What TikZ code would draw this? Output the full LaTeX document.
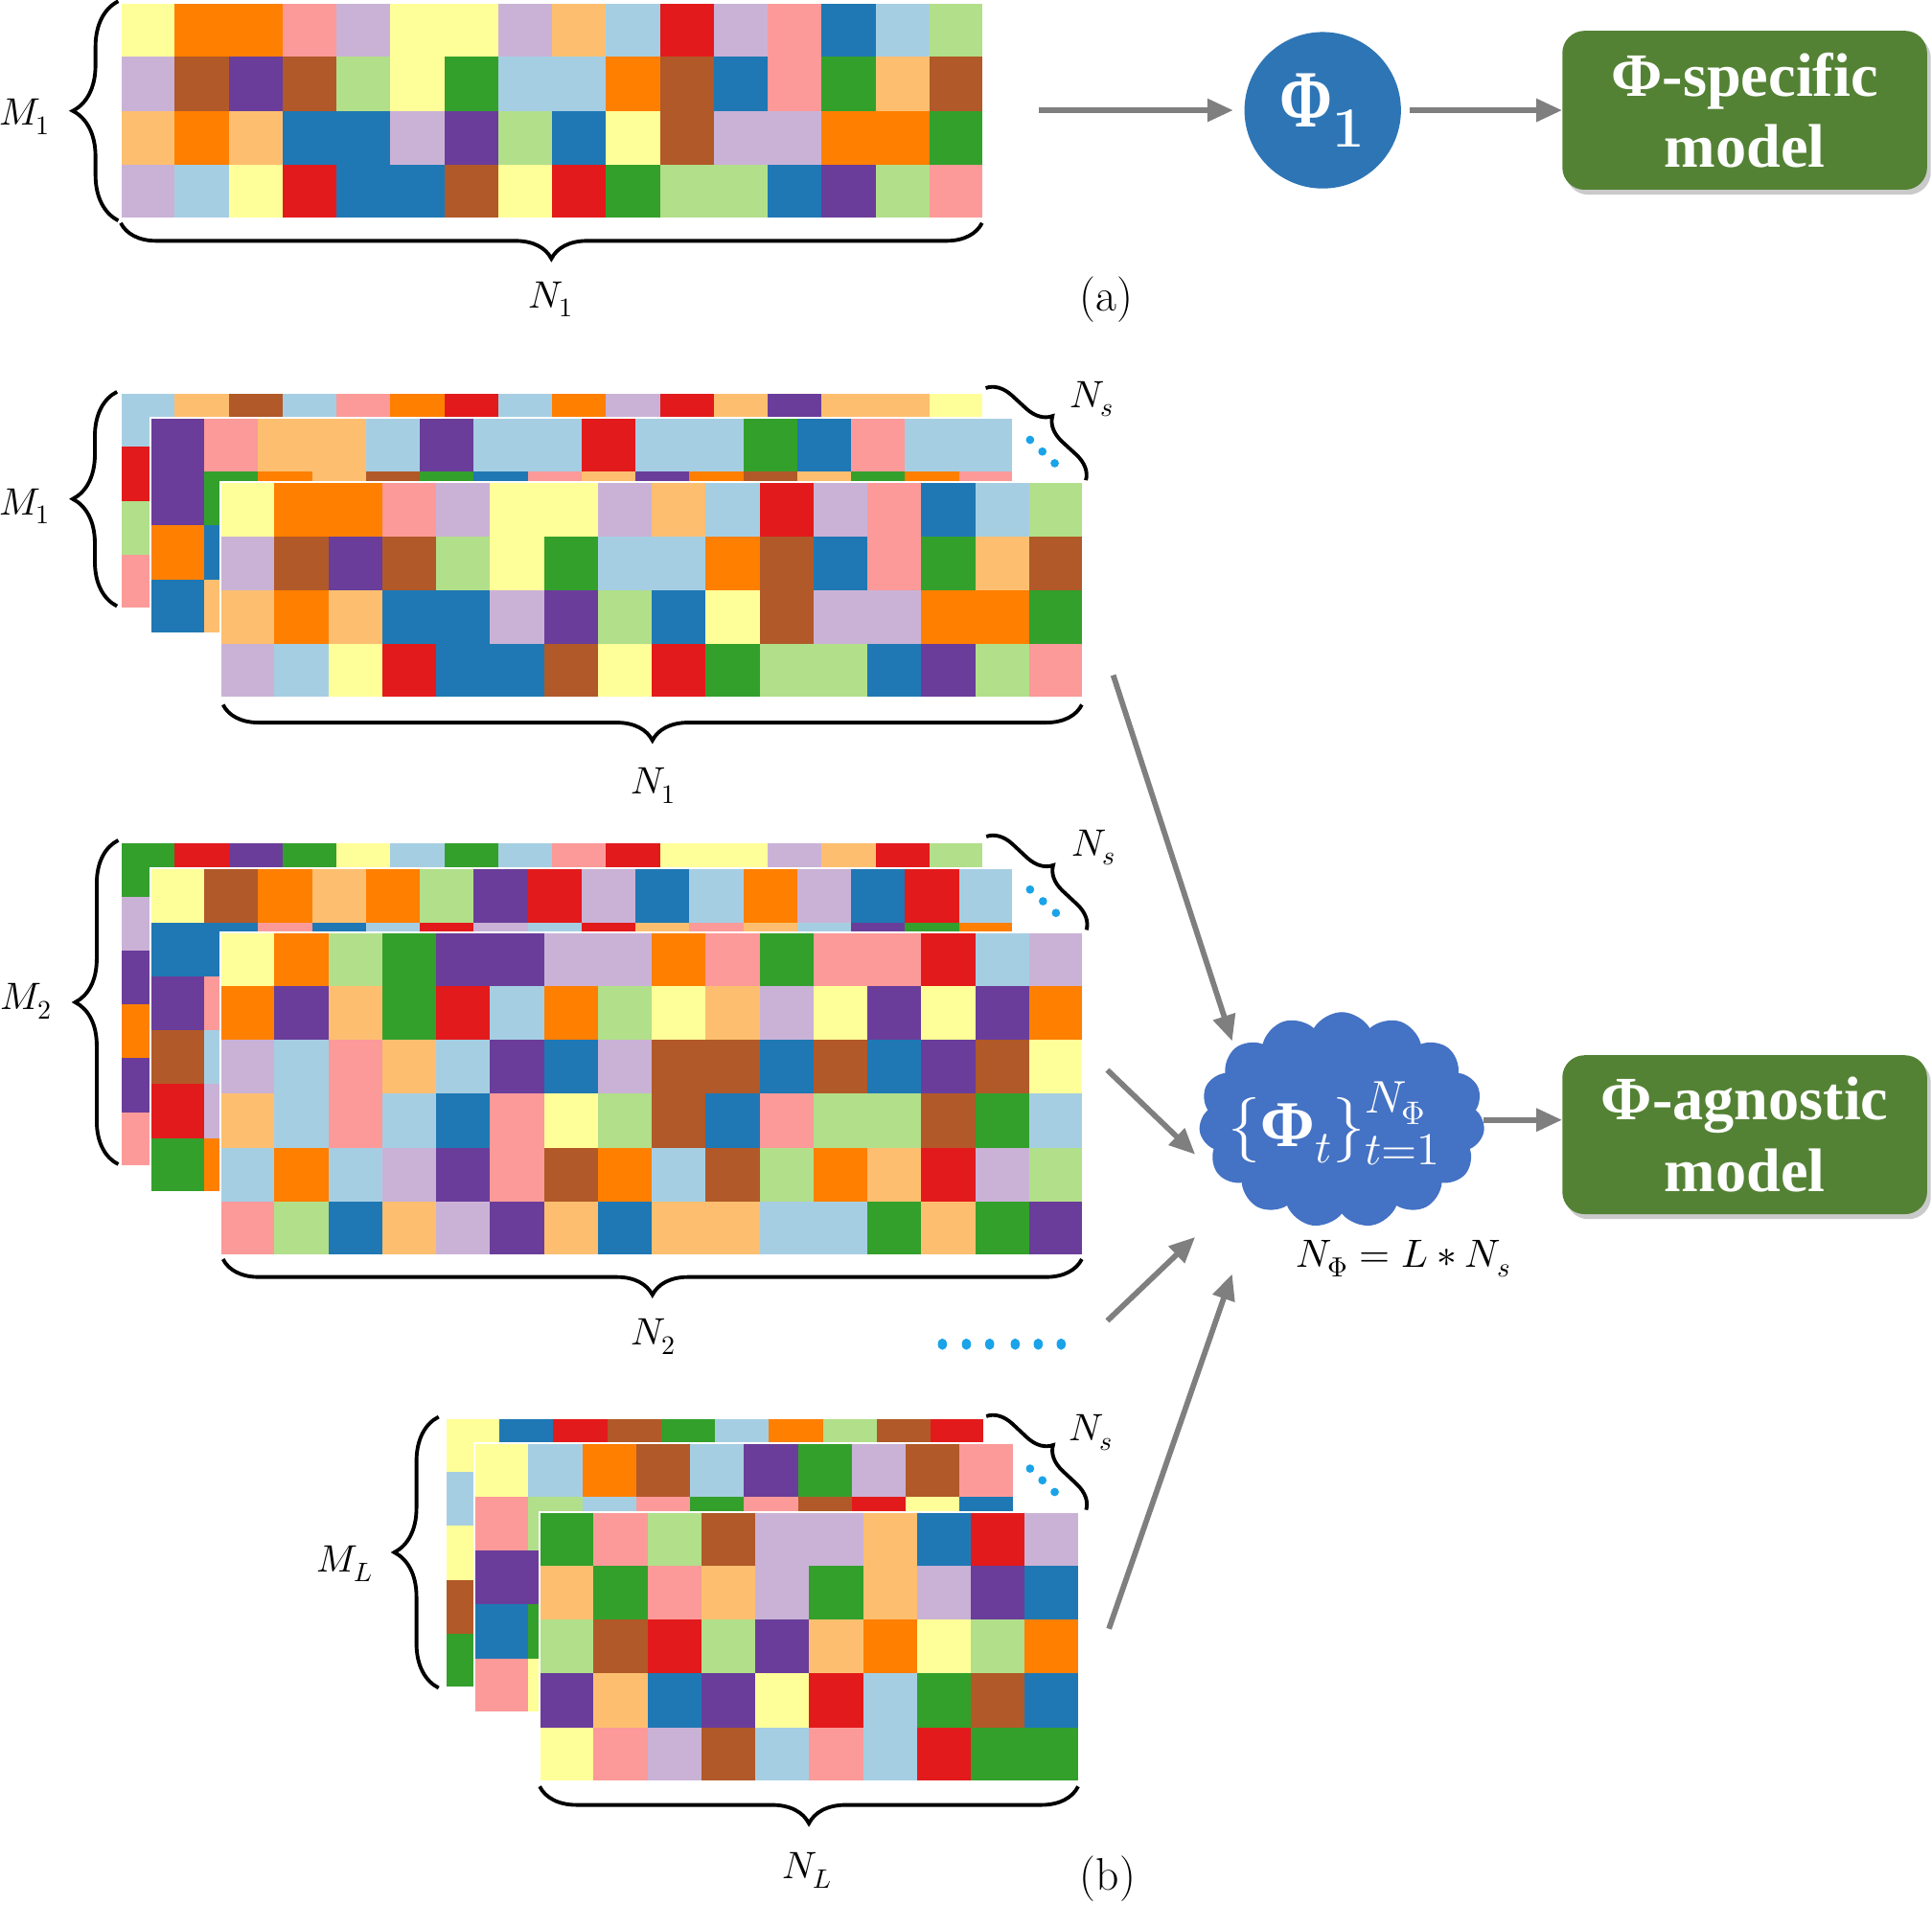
\documentclass[tikz,border=0pt]{standalone}
\usepackage{fontspec}
\usepackage{unicode-math}
\setmathfont{Latin Modern Math}
\newfontfamily\boxfont{Liberation Serif}
\usetikzlibrary{arrows.meta,decorations.pathreplacing,shapes.symbols,shadows}
\definecolor{qlb}{HTML}{A6CEE3}
\definecolor{qdb}{HTML}{1F78B4}
\definecolor{qlg}{HTML}{B2DF8A}
\definecolor{qgr}{HTML}{33A02C}
\definecolor{qpk}{HTML}{FB9A99}
\definecolor{qrd}{HTML}{E31A1C}
\definecolor{qlo}{HTML}{FDBF6F}
\definecolor{qor}{HTML}{FF7F00}
\definecolor{qlp}{HTML}{CAB2D6}
\definecolor{qpu}{HTML}{6A3D9A}
\definecolor{qye}{HTML}{FFFF99}
\definecolor{qbr}{HTML}{B15928}
\definecolor{arrowgray}{HTML}{7F7F7F}
\definecolor{circblue}{HTML}{2E75B6}
\definecolor{cloudblue}{HTML}{4472C4}
\definecolor{boxgreen}{HTML}{548235}
\definecolor{dotblue}{HTML}{1AA3E8}
\newcommand\bPhi[1]{\mbox{\scalebox{#1}[1]{\boxfont\bfseries Φ}}}
\newcommand\cellrow[3]{\foreach \cc [count=\ii from 0] in #3 {\fill[\cc] ({#1+\ii*43.75},{#2}) rectangle ++(44.3,44.3);}}
\newcommand\cellmat[3]{\foreach \rr [count=\jj from 0] in {#3} {\cellrow{#1}{#2+\jj*43.75}{\rr}}}
\newcommand\cellcol[3]{\foreach \cc [count=\jj from 1] in {#3} {\fill[\cc] ({#1},{#2+\jj*43.75}) rectangle ++(44.3,44.3);}}
\newcommand\matA[2]{\cellmat{#1}{#2}{%
{qye,qor,qor,qpk,qlp,qye,qye,qlp,qlo,qlb,qrd,qlp,qpk,qdb,qlb,qlg},%
{qlp,qbr,qpu,qbr,qlg,qye,qgr,qlb,qlb,qor,qbr,qdb,qpk,qgr,qlo,qbr},%
{qlo,qor,qlo,qdb,qdb,qlp,qpu,qlg,qdb,qye,qbr,qlp,qlp,qor,qor,qgr},%
{qlp,qlb,qye,qrd,qdb,qdb,qbr,qye,qrd,qgr,qlg,qlg,qdb,qpu,qlg,qpk}}%
\draw[mborder] (#1,#2) rectangle ++(700,175);}
\begin{document}
\begin{tikzpicture}[x=1pt,y=-1pt,
  mborder/.style={white, line width=1.5pt},
  bracestyle/.style={decorate, line width=3pt, black},
  lab/.style={font=\fontsize{31}{36}\selectfont, inner sep=0pt},
  plab/.style={font=\fontsize{37}{40}\selectfont, inner sep=0pt},
  garrow/.style={draw=arrowgray, line width=4.5pt, -{Triangle[length=21pt,width=18pt]}},
  gbox/.style={fill=boxgreen, rounded corners=18pt, minimum width=296pt, minimum height=129pt,
    inner sep=0pt, text=white, align=center, font={\boxfont\bfseries\fontsize{50}{58}\selectfont},
    drop shadow={shadow xshift=3pt, shadow yshift=-4pt, opacity=0.35, fill=black!60}},
  dotc/.style={fill=dotblue}]
\useasboundingbox (0,0) rectangle (1568,1546);

% ---------- (a) ----------
\matA{98}{2.5}
\draw[bracestyle, decoration={brace, amplitude=37pt}] (96,179) -- (96,1);
\draw[bracestyle, decoration={brace, amplitude=29pt}] (797,181) -- (98,181);
\node[lab] (Ma) at (20,95) {$M_1$};
\node[lab] (Na) at (447,243) {$N_1$};
\node[plab] (la) at (898,243) {(a)};
\node[circle, fill=circblue, minimum size=127pt, inner sep=0pt, text=white,
  font=\fontsize{66}{70}\selectfont] (phi1) at (1073.5,89.5) {$\bPhi{0.78}_{\mathbf{1}}$};
\node[gbox] (spec) at (1416,89.5) {Φ-specific\\model};
\coordinate (ta) at (843,89.5);
\draw[garrow, shorten >=9pt] (ta) -- (phi1.west);
\draw[garrow, shorten <=7pt] (phi1.east) -- (spec.west);

% ---------- (b) stack 1 ----------
\cellrow{98}{319}{{qlb,qlo,qbr,qlb,qpk,qor,qrd,qlb,qor,qlp,qrd,qlo,qpu,qlo,qlo,qye}}
\cellcol{98}{319}{qrd,qlg,qpk}
\draw[mborder] (98,319) rectangle ++(700,175);
\cellmat{122}{339}{{qpu,qpk,qlo,qlo,qlb,qpu,qlb,qlb,qrd,qlb,qlb,qgr,qdb,qpk,qlb,qlb},{qpu,qgr,qor,qlo,qbr,qgr,qdb,qpk,qlo,qpu,qor,qbr,qlo,qgr,qor,qpk}}
\cellmat{122}{426.5}{{qor,qdb},{qdb,qlo}}
\draw[mborder] (122,339) rectangle ++(700,175);
\matA{179}{391.5}
\draw[bracestyle, decoration={brace, amplitude=36pt}] (95,492) -- (95,318);
\draw[bracestyle, decoration={brace, amplitude=29pt}] (878,572) -- (181,572);
\draw[bracestyle, decoration={brace, amplitude=20pt}] (800,315) -- (881.5,390);
\fill[dotc] (836,357) circle (3.4pt) (846,366.5) circle (3.4pt) (856,376) circle (3.4pt);
\node[lab] (Mb1) at (20,411) {$M_1$};
\node[lab] (Nb1) at (530,638) {$N_1$};
\node[lab] (Ns1) at (886,324) {$N_s$};

% ---------- (b) stack 2 ----------
\cellrow{98}{684}{{qgr,qrd,qpu,qgr,qye,qlb,qgr,qlb,qpk,qrd,qye,qye,qlp,qlo,qrd,qlg}}
\cellcol{98}{684}{qlp,qpu,qor,qpu,qpk}
\draw[mborder] (98,684) rectangle ++(700,262.5);
\cellmat{122}{705}{{qye,qbr,qor,qlo,qor,qlg,qpu,qrd,qlp,qdb,qlb,qor,qlp,qdb,qrd,qlb},{qdb,qdb,qpk,qdb,qlb,qrd,qlp,qlb,qrd,qlo,qpk,qlo,qlb,qpu,qgr,qor}}
\cellmat{122}{792.5}{{qpu,qpk},{qbr,qlb},{qrd,qlp},{qgr,qor}}
\draw[mborder] (122,705) rectangle ++(700,262.5);
\cellmat{179}{756.5}{%
{qye,qor,qlg,qgr,qpu,qpu,qlp,qlp,qor,qpk,qgr,qpk,qpk,qrd,qlb,qlp},%
{qor,qpu,qlo,qgr,qrd,qlb,qor,qlg,qye,qlo,qlp,qye,qpu,qye,qpu,qor},%
{qlp,qlb,qpk,qlo,qlb,qpu,qdb,qlp,qbr,qbr,qdb,qbr,qdb,qpu,qbr,qye},%
{qlo,qlb,qpk,qlb,qdb,qpk,qye,qlg,qbr,qdb,qpk,qlg,qlg,qbr,qgr,qlb},%
{qlb,qor,qlb,qlp,qpu,qpk,qbr,qor,qlb,qbr,qlg,qor,qlo,qrd,qlp,qlg},%
{qpk,qlg,qdb,qlo,qlp,qpu,qlo,qdb,qlo,qlo,qlb,qlb,qgr,qlo,qgr,qpu}}
\draw[mborder] (179,756.5) rectangle ++(700,262.5);
\draw[bracestyle, decoration={brace, amplitude=35pt}] (96,945) -- (96,682);
\draw[bracestyle, decoration={brace, amplitude=29pt}] (878,1022) -- (181,1022);
\draw[bracestyle, decoration={brace, amplitude=20pt}] (800.5,679) -- (882,755);
\fill[dotc] (836,722) circle (3.4pt) (846.5,731.5) circle (3.4pt) (857,741) circle (3.4pt);
\node[lab] (M2) at (21,813) {$M_2$};
\node[lab] (N2) at (530,1085) {$N_2$};
\node[lab] (Ns2) at (888,688) {$N_s$};

% ---------- (b) stack L ----------
\cellrow{361.5}{1151}{{qye,qdb,qrd,qbr,qgr,qlb,qor,qlg,qbr,qrd}}
\cellcol{361.5}{1151}{qlb,qye,qbr,qgr}
\draw[mborder] (361.5,1151) rectangle ++(437.5,218.75);
\cellmat{385}{1171}{{qye,qlb,qor,qbr,qlb,qpu,qgr,qlp,qbr,qpk},{qpk,qlg,qlb,qpk,qgr,qpk,qbr,qrd,qye,qdb}}
\cellmat{385}{1258.5}{{qpu,qpu},{qdb,qgr},{qpk,qye}}
\draw[mborder] (385,1171) rectangle ++(437.5,218.75);
\cellmat{438}{1227}{%
{qgr,qpk,qlg,qbr,qlp,qlp,qlo,qdb,qrd,qlp},%
{qlo,qgr,qpk,qlo,qlp,qgr,qlo,qlp,qpu,qdb},%
{qlg,qbr,qrd,qlg,qpu,qlo,qor,qye,qlg,qor},%
{qpu,qlo,qdb,qpu,qye,qrd,qlb,qgr,qbr,qdb},%
{qye,qpk,qlp,qbr,qlb,qpk,qlb,qrd,qgr,qgr}}
\draw[mborder] (438,1227) rectangle ++(437.5,218.75);
\draw[bracestyle, decoration={brace, amplitude=36pt}] (356,1370) -- (356,1150);
\draw[bracestyle, decoration={brace, amplitude=30pt}] (875,1450) -- (438,1450);
\draw[bracestyle, decoration={brace, amplitude=20pt}] (800.5,1149.5) -- (881.5,1225.5);
\fill[dotc] (836,1192) circle (3.4pt) (846,1201.5) circle (3.4pt) (856,1211) circle (3.4pt);
\node[lab] (ML) at (280,1269) {$M_L$};
\node[lab] (NL) at (655,1518) {$N_L$};
\node[lab] (NsL) at (885,1163) {$N_s$};
\node[plab] (lb) at (899,1525) {(b)};

% horizontal dots
\foreach \dx in {764.8,784.3,803.2,823.9,842.6,861.2}
  \fill[dotc] (\dx,1091) ellipse [x radius=3.7pt, y radius=4.6pt];

% ---------- cloud & model ----------
\node[cloud, cloud puffs=15, cloud puff arc=120, aspect=1.33, fill=cloudblue,
  minimum width=232pt, minimum height=175pt, inner sep=0pt] (cloud) at (1089,909) {};
\node[text=white, inner sep=0pt, font=\fontsize{53}{56}\selectfont] (cloudtxt) at (1083,912)
  {$\{\bPhi{1}_t\}_{t=1}^{N_{\Phi}}$};
\node[font=\fontsize{32}{36}\selectfont, inner sep=0pt] (eqn) at (1139,1022) {$N_{\Phi}=L\ast N_s$};
\node[gbox] (agn) at (1416,921) {Φ-agnostic\\model};
\coordinate (t1) at (903.5,548);  \coordinate (h1) at (1000,845);
\coordinate (t2) at (898.7,868.5); \coordinate (h2) at (970,937);
\coordinate (t3) at (898.7,1072); \coordinate (h3) at (970,1004);
\coordinate (t4) at (900,1322);   \coordinate (h4) at (1000,1034);
\draw[garrow] (t1) -- (h1);
\draw[garrow] (t2) -- (h2);
\draw[garrow] (t3) -- (h3);
\draw[garrow] (t4) -- (h4);
\draw[garrow] (cloud.east) -- (cloud.east -| agn.west);
\end{tikzpicture}
\end{document}
